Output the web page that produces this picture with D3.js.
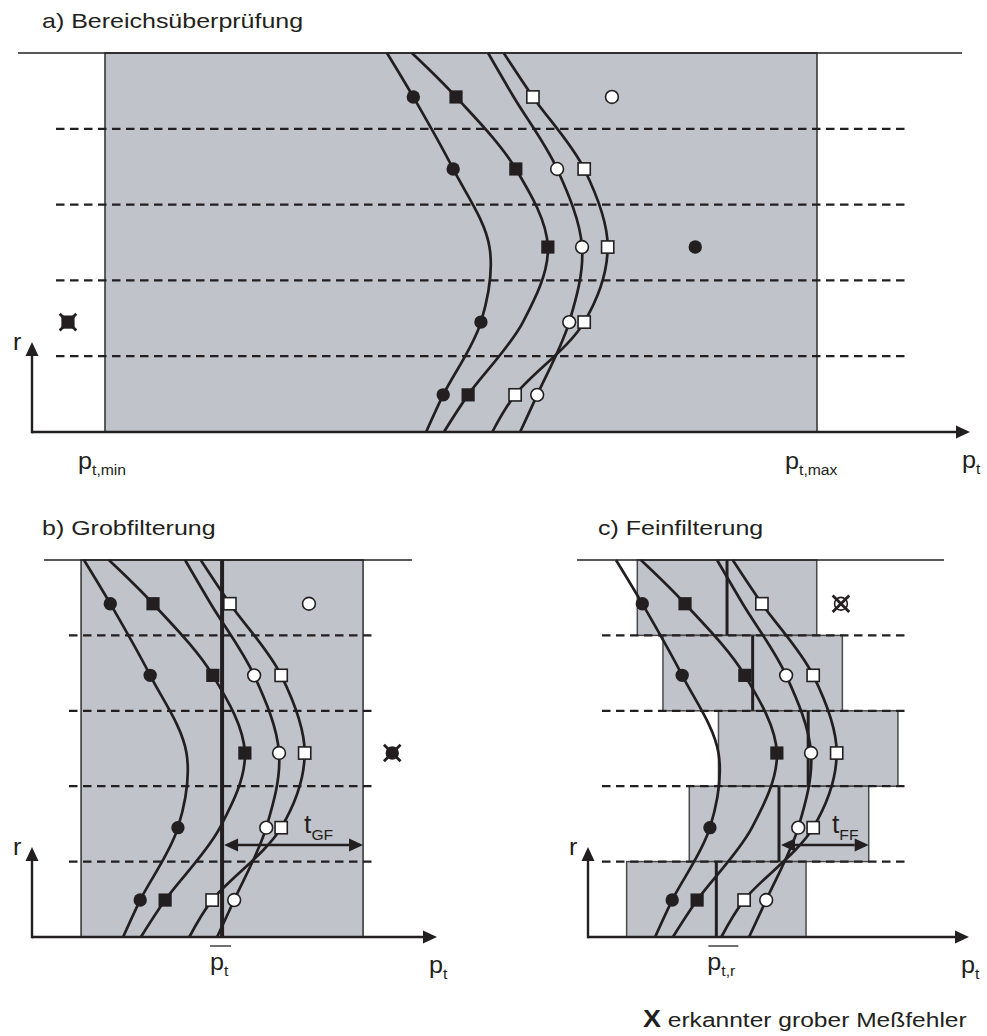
<!DOCTYPE html>
<html>
<head>
<meta charset="utf-8">
<script src="https://cdn.jsdelivr.net/npm/d3@7"></script>
<style>
  body { margin: 0; background: #fff; }
  svg { display: block; }
  text { font-family: "Liberation Sans", Arial, sans-serif; fill: #231f20; }
</style>
</head>
<body>
<svg id="chart" width="987" height="1036"></svg>
<script>
// r positions of the five measurement rows (top to bottom), r runs 0..5
const rowR = [4.42, 3.47, 2.44, 1.45, 0.49];
// curve anchors: top edge, the five rows, bottom edge
const curveR = [5].concat(rowR, [0]);

// p_t of the four profiles (p_t,min = 0, p_t,max = 100)
const dotCurve  = [39.6, 43.3, 48.9, 54.0, 52.8, 47.5, 45.1];
const sqCurve   = [43.1, 49.3, 57.7, 62.2, 58.7, 51.0, 47.6];
const ringCurve = [53.8, 57.4, 63.5, 67.0, 65.2, 60.7, 58.3];
const boxCurve  = [56.0, 60.1, 67.3, 70.6, 67.3, 57.6, 54.4];

// rows where each profile has its own regular measurement
const dotRows  = [0, 1, 3, 4];
const sqRows   = [0, 1, 2, 4];
const ringRows = [1, 2, 3, 4];
const boxRows  = [0, 1, 2, 3, 4];

// outliers (gross errors)
const outlierShape = ["ring", "dot", "square"];
const outlierRow   = [0, 2, 3];
const outlierP     = [71.2, 82.9, -5.2];
// how each panel shows them: plain, crossed (detected) or none (removed)
const outlierA = ["plain", "plain", "crossed"];
const outlierB = ["plain", "crossed", "none"];
const outlierC = ["crossed", "none", "none"];

// filter parameters
const pMin = 0, pMax = 100;
const pMean = 59.0, tGF = 19.8;
const pMeanRow = [55.2, 58.8, 66.6, 62.5, 53.7];
const tFF = 12.6;
const tolRow = 3;       // row whose t_FF is annotated
const tolArrowR = 1.22;

const dark = "#231f20", gray = "#c0c3c9";
const svg = d3.select("#chart");

// panel scales
const xa = d3.scaleLinear().domain([pMin, pMax]).range([105, 817]);
const xb = d3.scaleLinear().domain([pMin, pMax]).range([-198, 514]);
const xc = d3.scaleLinear().domain([pMin, pMax]).range([334, 1046]);
const ya = d3.scaleLinear().domain([0, 5]).range([432, 53]);
const yb = d3.scaleLinear().domain([0, 5]).range([937, 560]);

const profiles = [
  { curve: dotCurve, rows: dotRows, shape: "dot" },
  { curve: sqCurve, rows: sqRows, shape: "square" },
  { curve: ringCurve, rows: ringRows, shape: "ring" },
  { curve: boxCurve, rows: boxRows, shape: "box" }
];

function marker(g, shape, x, y, crossed) {
  if (shape === "dot") {
    g.append("circle").attr("cx", x).attr("cy", y).attr("r", 6.7).attr("fill", dark);
  } else if (shape === "square") {
    g.append("rect").attr("x", x - 6.6).attr("y", y - 6.6).attr("width", 13.2).attr("height", 13.2).attr("fill", dark);
  } else if (shape === "ring") {
    g.append("circle").attr("cx", x).attr("cy", y).attr("r", 6.4)
      .attr("fill", "#fff").attr("stroke", dark).attr("stroke-width", 1.6);
  } else {
    g.append("rect").attr("x", x - 6.1).attr("y", y - 6.1).attr("width", 12.2).attr("height", 12.2)
      .attr("fill", "#fff").attr("stroke", dark).attr("stroke-width", 1.6);
  }
  if (crossed) {
    const k = 8.3;
    g.append("path")
      .attr("d", `M${x - k},${y - k}L${x + k},${y + k}M${x + k},${y - k}L${x - k},${y + k}`)
      .attr("stroke", dark).attr("stroke-width", 2.8);
  }
}

function arrowHead(g, x, y, dir) {
  // dir: "right", "left", "up"
  const L = 14, w = 6.5;
  let pts;
  if (dir === "right") pts = [[x, y], [x - L, y - w], [x - L, y + w]];
  else if (dir === "left") pts = [[x, y], [x + L, y - w], [x + L, y + w]];
  else pts = [[x, y], [x - w, y + L], [x + w, y + L]];
  g.append("polygon").attr("points", pts.map(p => p.join(",")).join(" ")).attr("fill", dark);
}

function label(g, x, y, main, sub, size, subSize, sx) {
  const t = g.append("text").attr("transform", `translate(${x},${y}) scale(${sx},1)`)
    .attr("font-size", size);
  t.append("tspan").text(main);
  if (sub) t.append("tspan").attr("font-size", subSize).attr("dy", size * 0.27).text(sub);
  return t;
}

function drawPanel(opt) {
  const g = svg.append("g");
  const x = opt.x, y = opt.y;
  const y0 = y(0), y5 = y(5);

  // shaded ranges
  opt.boxes(g, x, y);

  // row boundaries
  [1, 2, 3, 4].forEach(r => {
    g.append("line").attr("x1", opt.dash[0]).attr("x2", opt.dash[1])
      .attr("y1", y(r)).attr("y2", y(r))
      .attr("stroke", dark).attr("stroke-width", 2.2).attr("stroke-dasharray", "8.5,5.5");
  });

  // top line
  g.append("line").attr("x1", opt.top[0]).attr("x2", opt.top[1]).attr("y1", y5).attr("y2", y5)
    .attr("stroke", dark).attr("stroke-width", 1.4);

  if (opt.lines) opt.lines(g, x, y);

  // profile curves
  const line = d3.line().x(d => x(d[0])).y(d => y(d[1])).curve(d3.curveCatmullRom.alpha(0.5));
  profiles.forEach(p => {
    g.append("path").attr("d", line(p.curve.map((v, i) => [v, curveR[i]])))
      .attr("fill", "none").attr("stroke", dark).attr("stroke-width", 2.7);
  });
  profiles.forEach(p => {
    p.rows.forEach(i => marker(g, p.shape, x(p.curve[i + 1]), y(rowR[i]), false));
  });
  outlierShape.forEach((s, i) => {
    const st = opt.outliers[i];
    if (st === "none") return;
    marker(g, s, x(outlierP[i]), y(rowR[outlierRow[i]]), st === "crossed");
  });

  // axes
  g.append("line").attr("x1", opt.ax).attr("x2", opt.axEnd - 4).attr("y1", y0).attr("y2", y0)
    .attr("stroke", dark).attr("stroke-width", 2.6);
  arrowHead(g, opt.axEnd, y0, "right");
  g.append("line").attr("x1", opt.ax).attr("x2", opt.ax).attr("y1", y0 + 1.3).attr("y2", y0 - 86)
    .attr("stroke", dark).attr("stroke-width", 2.4);
  arrowHead(g, opt.ax, y0 - 90, "up");
  label(g, opt.ax - 19, y0 - 82, "r", null, 24, 15, 1.05);
  label(g, opt.axEnd - 8, y0 + 36, "p", "t", 24, 15, 1.05);

  // title
  label(g, opt.titleX, y5 - 25, opt.title, null, 21, 14, 1.19);
  return g;
}

// a) range check
drawPanel({
  x: xa, y: ya, title: "a) Bereichsüberprüfung", titleX: 42,
  top: [18, 962], dash: [56, 905], ax: 32, axEnd: 970,
  outliers: outlierA,
  boxes: (g, x, y) => {
    g.append("rect").attr("x", x(pMin)).attr("y", y(5)).attr("width", x(pMax) - x(pMin))
      .attr("height", y(0) - y(5)).attr("fill", gray).attr("stroke", "#3a3a3a").attr("stroke-width", 1.6);
  },
  lines: (g, x, y) => {
    label(g, x(pMin) - 27, y(0) + 37, "p", "t,min", 24, 15, 1.05);
    label(g, x(pMax) - 32, y(0) + 37, "p", "t,max", 24, 15, 1.05);
  }
});

// b) coarse filter
drawPanel({
  x: xb, y: yb, title: "b) Grobfilterung", titleX: 42,
  top: [44, 412], dash: [69, 375], ax: 32, axEnd: 437,
  outliers: outlierB,
  boxes: (g, x, y) => {
    g.append("rect").attr("x", x(pMean - tGF)).attr("y", y(5)).attr("width", x(pMean + tGF) - x(pMean - tGF))
      .attr("height", y(0) - y(5)).attr("fill", gray).attr("stroke", "#3a3a3a").attr("stroke-width", 1.6);
  },
  lines: (g, x, y) => {
    g.append("line").attr("x1", x(pMean)).attr("x2", x(pMean)).attr("y1", y(5)).attr("y2", y(0))
      .attr("stroke", dark).attr("stroke-width", 4);
    const ay = y(tolArrowR);
    g.append("line").attr("x1", x(pMean) + 14).attr("x2", x(pMean + tGF) - 14).attr("y1", ay).attr("y2", ay)
      .attr("stroke", dark).attr("stroke-width", 2.4);
    arrowHead(g, x(pMean) + 2, ay, "left");
    arrowHead(g, x(pMean + tGF), ay, "right");
    label(g, x(pMean) + 82, ay - 12, "t", "GF", 25, 15, 1.05);
    label(g, x(pMean) - 12, y(0) + 33, "p", "t", 24, 15, 1.05);
    g.append("line").attr("x1", x(pMean) - 12).attr("x2", x(pMean) + 9).attr("y1", y(0) + 9).attr("y2", y(0) + 9)
      .attr("stroke", dark).attr("stroke-width", 1.3);
  }
});

// c) fine filter
drawPanel({
  x: xc, y: yb, title: "c) Feinfilterung", titleX: 598,
  top: [577, 944], dash: [602, 907], ax: 588, axEnd: 969,
  outliers: outlierC,
  boxes: (g, x, y) => {
    pMeanRow.forEach((m, i) => {
      const r = 4 - i;
      g.append("rect").attr("x", x(m - tFF)).attr("y", y(r + 1)).attr("width", x(m + tFF) - x(m - tFF))
        .attr("height", y(r) - y(r + 1)).attr("fill", gray).attr("stroke", "#4a4a4a").attr("stroke-width", 1.5);
    });
  },
  lines: (g, x, y) => {
    pMeanRow.forEach((m, i) => {
      const r = 4 - i;
      g.append("line").attr("x1", x(m)).attr("x2", x(m)).attr("y1", y(r + 1)).attr("y2", y(r))
        .attr("stroke", dark).attr("stroke-width", 3);
    });
    const m = pMeanRow[tolRow];
    const ay = y(tolArrowR);
    g.append("line").attr("x1", x(m) + 14).attr("x2", x(m + tFF) - 14).attr("y1", ay).attr("y2", ay)
      .attr("stroke", dark).attr("stroke-width", 2.4);
    arrowHead(g, x(m) + 2, ay, "left");
    arrowHead(g, x(m + tFF), ay, "right");
    label(g, x(m) + 53, ay - 12, "t", "FF", 25, 15, 1.05);
    label(g, x(pMeanRow[4]) - 9, y(0) + 33, "p", "t,r", 24, 15, 1.05);
    g.append("line").attr("x1", x(pMeanRow[4]) - 8).attr("x2", x(pMeanRow[4]) + 22).attr("y1", y(0) + 9).attr("y2", y(0) + 9)
      .attr("stroke", dark).attr("stroke-width", 1.3);
  }
});

// legend
const leg = svg.append("text").attr("transform", "translate(643,1027) scale(1.17,1)").attr("font-size", 21);
leg.append("tspan").attr("font-size", 23).attr("font-weight", "bold").text("X");
leg.append("tspan").text(" erkannter grober Meßfehler");
</script>
</body>
</html>
